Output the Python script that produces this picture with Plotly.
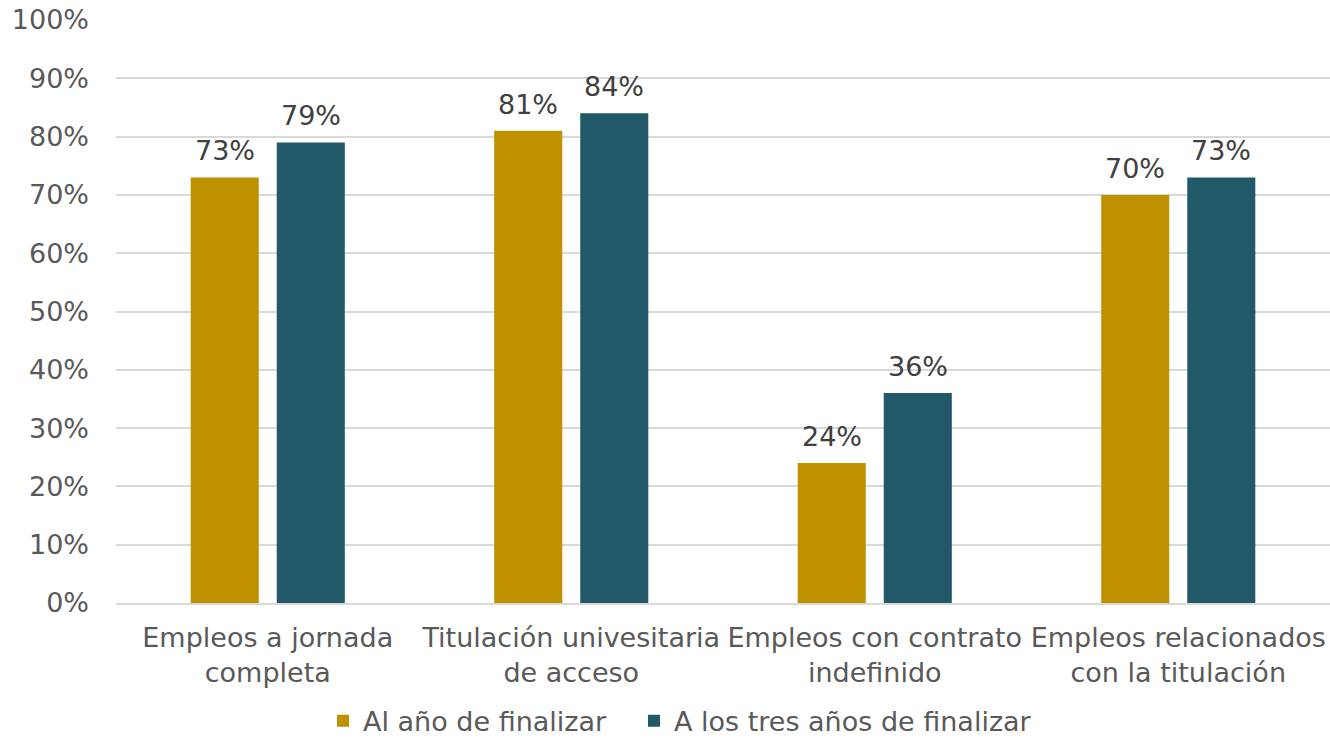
import plotly.graph_objects as go

categories = ["Empleos a jornada<br>completa", "Titulación univesitaria<br>de acceso",
              "Empleos con contrato<br>indefinido", "Empleos relacionados<br>con la titulación"]
series_names = ["Al año de finalizar", "A los tres años de finalizar"]
al_anio = [0.73, 0.81, 0.24, 0.70]
tres_anios = [0.79, 0.84, 0.36, 0.73]
colors = ["#BF9000", "#215968"]
FS = 27

fig = go.Figure()
for name, vals, col, lg in zip(series_names, [al_anio, tres_anios], colors, ["legend", "legend2"]):
    fig.add_trace(go.Bar(x=categories, y=vals, name=name, marker_color=col,
                         marker_line_width=0, legend=lg))

# value labels above each bar
for shift, vals in zip([-43, 43], [al_anio, tres_anios]):
    for c, v in zip(categories, vals):
        fig.add_annotation(x=c, y=v, text=f"{round(v*100)}%", showarrow=False,
                           xshift=shift, yshift=9, yanchor="bottom",
                           font=dict(size=FS, color="#404040"))

legend_common = dict(orientation="h", xanchor="left", xref="container",
                     yref="container", y=0.024, yanchor="middle",
                     font=dict(size=FS, color="#595959"), itemwidth=30,
                     bgcolor="rgba(0,0,0,0)")

fig.update_layout(
    width=1330, height=739,
    margin=dict(l=116, r=0, t=20, b=136, autoexpand=False),
    paper_bgcolor="white", plot_bgcolor="white",
    font=dict(family="DejaVu Sans", size=FS, color="#595959"),
    barmode="group", bargap=0.433, bargroupgap=0.209,
    showlegend=True,
    legend=dict(x=323/1330, **legend_common),
    legend2=dict(x=634/1330, **legend_common),
    yaxis=dict(range=[0, 1], dtick=0.1, tickformat=".0%", showgrid=True,
               gridcolor="#D9D9D9", gridwidth=1.5, zeroline=False, ticks="",
               showline=False, ticklabelstandoff=26, automargin=False),
    xaxis=dict(showline=True, linecolor="#D9D9D9", linewidth=1.5, ticks="",
               ticklabelstandoff=10, automargin=False),
)

fig.write_html("out.html", config={"displayModeBar": False},
               post_script="document.body.style.margin='0';")
